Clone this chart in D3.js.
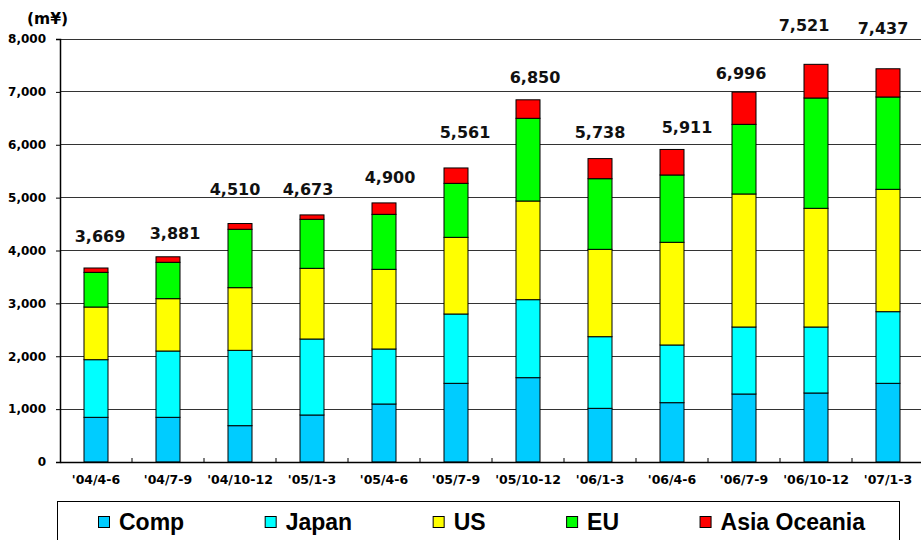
<!DOCTYPE html>
<html>
<head>
<meta charset="utf-8">
<script src="https://cdn.jsdelivr.net/npm/d3@7"></script>
<style>
  html, body { margin: 0; padding: 0; background: #fff; }
  svg { display: block; }
</style>
</head>
<body>
<svg id="chart" width="921" height="540"></svg>
<script>
// Quarterly sales by region (m¥)
const quarters = ["'04/4-6", "'04/7-9", "'04/10-12", "'05/1-3", "'05/4-6", "'05/7-9",
                  "'05/10-12", "'06/1-3", "'06/4-6", "'06/7-9", "'06/10-12", "'07/1-3"];
const comp  = [845, 845, 687, 889, 1097, 1488, 1595, 1015, 1122, 1286, 1305, 1488];
const japan = [1090, 1254, 1425, 1437, 1040, 1311, 1475, 1355, 1091, 1267, 1248, 1355];
const us    = [996, 990, 1185, 1337, 1507, 1450, 1866, 1652, 1942, 2516, 2245, 2314];
const eu    = [656, 688, 1104, 927, 1040, 1021, 1564, 1336, 1273, 1317, 2086, 1746];
const asia  = [82, 104, 109, 83, 216, 291, 350, 380, 483, 610, 637, 534];
const seriesNames = ["Comp", "Japan", "US", "EU", "Asia Oceania"];
const yTicks = [0, 1000, 2000, 3000, 4000, 5000, 6000, 7000, 8000];

const colors = ["#00CCFF", "#00FFFF", "#FFFF00", "#00FF00", "#FF0000"];
// Hand placement of the total labels (pixels above the bar top, sideways shift)
const labelLift  = [26, 18, 29, 20, 20, 30, 17, 21, 16, 13, 33, 35];
const labelShift = [4, 7, -5, -4, 6, 9, 7, 0, 15, -3, -12, -5];

const seriesValues = [comp, japan, us, eu, asia];
const rows = quarters.map((q, i) => {
  const r = { quarter: q };
  seriesNames.forEach((s, k) => r[s] = seriesValues[k][i]);
  return r;
});
const totals = rows.map(r => d3.sum(seriesNames, s => r[s]));

const svg = d3.select("#chart");
svg.append("rect").attr("width", 921).attr("height", 540).attr("fill", "#fff");

const plotLeft = 60, plotRight = 924, plotTop = 39, plotBottom = 462;
const x = d3.scaleBand().domain(quarters).range([plotLeft, plotRight])
  .paddingInner(2 / 3).paddingOuter(1 / 3);
const y = d3.scaleLinear().domain([0, 8000]).range([plotBottom, plotTop]);

const fmt = d3.format(",");
const numFont = "'DejaVu Sans', Verdana, sans-serif";

// Gridlines
svg.append("g").selectAll("line").data(yTicks.filter(t => t > 0)).join("line")
  .attr("x1", plotLeft).attr("x2", 921)
  .attr("y1", d => y(d)).attr("y2", d => y(d))
  .attr("stroke", "#333").attr("stroke-width", 1).attr("shape-rendering", "crispEdges");

// Y axis
const yAxis = svg.append("g").attr("transform", `translate(${plotLeft},0)`)
  .call(d3.axisLeft(y).tickValues(yTicks).tickFormat(fmt).tickSize(4).tickPadding(10));
yAxis.select(".domain").attr("stroke", "#000").attr("stroke-width", 1.5);
yAxis.selectAll(".tick line").attr("stroke", "#000");
yAxis.selectAll("text").attr("font-family", numFont).attr("font-weight", "bold")
  .attr("font-size", 12).attr("fill", "#000");

// Unit label
svg.append("text").attr("x", 27).attr("y", 24)
  .attr("font-family", numFont).attr("font-weight", "bold").attr("font-size", 15.5)
  .text("(m¥)");

// Stacked bars
const stack = d3.stack().keys(seriesNames);
const layers = stack(rows);
svg.append("g").selectAll("g").data(layers).join("g")
  .attr("fill", (d, k) => colors[k])
  .selectAll("rect").data(d => d).join("rect")
  .attr("x", d => x(d.data.quarter))
  .attr("width", x.bandwidth())
  .attr("y", d => y(d[1]))
  .attr("height", d => y(d[0]) - y(d[1]))
  .attr("stroke", "#000").attr("stroke-width", 1);

// X axis
const xAxis = svg.append("g").attr("transform", `translate(0,${plotBottom})`)
  .call(d3.axisBottom(x).tickSize(0).tickPadding(13));
xAxis.select(".domain").attr("stroke", "#000").attr("stroke-width", 1.5);
xAxis.selectAll("text").attr("font-family", numFont).attr("font-weight", "bold")
  .attr("font-size", 12.5).attr("fill", "#000");
// small tick marks between categories
const gapHalf = (x.step() - x.bandwidth()) / 2;
svg.append("g").selectAll("line").data(quarters.slice(1)).join("line")
  .attr("x1", d => x(d) - gapHalf).attr("x2", d => x(d) - gapHalf)
  .attr("y1", plotBottom).attr("y2", plotBottom - 4)
  .attr("stroke", "#000");

// Total labels
svg.append("g").selectAll("text").data(totals).join("text")
  .attr("x", (d, i) => x(quarters[i]) + x.bandwidth() / 2 + labelShift[i])
  .attr("y", (d, i) => y(d) - labelLift[i])
  .attr("text-anchor", "middle")
  .attr("font-family", numFont).attr("font-weight", "bold").attr("font-size", 16)
  .attr("fill", "#111")
  .text(d => fmt(d));

// Legend
svg.append("rect").attr("x", 57.5).attr("y", 501.5).attr("width", 842).attr("height", 60)
  .attr("fill", "#fff").attr("stroke", "#000").attr("stroke-width", 1);
let lx = 98;
seriesNames.forEach((name, k) => {
  svg.append("rect").attr("x", lx + 0.5).attr("y", 516.5).attr("width", 11).attr("height", 11)
    .attr("fill", colors[k]).attr("stroke", "#000").attr("stroke-width", 1);
  const t = svg.append("text").attr("x", lx + 21).attr("y", 529.5)
    .attr("font-family", "'Liberation Sans', Arial, sans-serif").attr("font-weight", "bold")
    .attr("font-size", 23).attr("fill", "#000").text(name);
  lx += 21 + t.node().getComputedTextLength() + 80.5;
});
</script>
</body>
</html>
